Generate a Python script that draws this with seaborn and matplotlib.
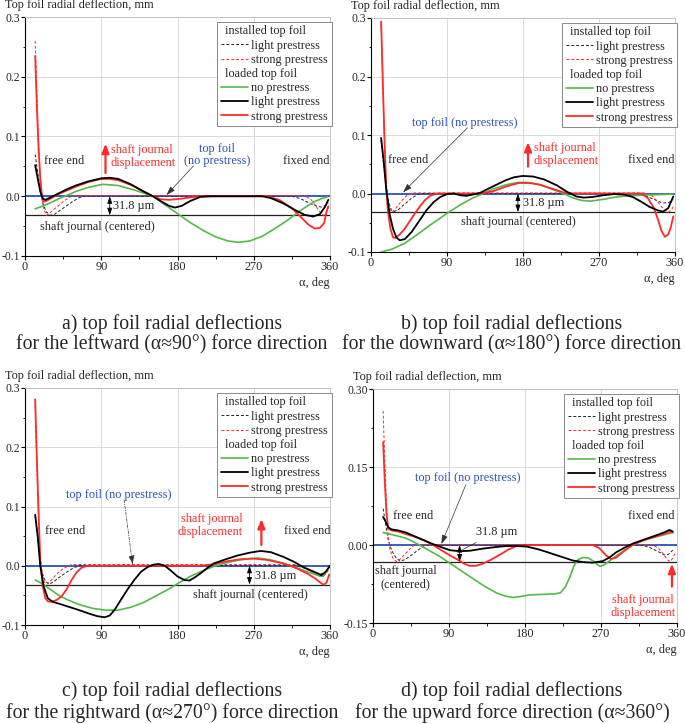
import numpy as np
import pandas as pd
import matplotlib
matplotlib.use("Agg")
import matplotlib.pyplot as plt
import seaborn as sns
from matplotlib.ticker import MultipleLocator, FormatStrFormatter
from matplotlib.lines import Line2D

# ---------------- data ----------------
# panel a) leftward force
a_green_ang = [12, 20, 30, 40, 47, 60, 75, 92, 110, 130, 151, 165, 180, 195, 210, 225, 240, 252, 265, 280, 295, 310, 325, 340, 350, 357]
a_green = [-0.021, -0.017, -0.011, -0.004, 0.0, 0.008, 0.015, 0.020, 0.018, 0.010, 0.0, -0.014, -0.029, -0.044, -0.057, -0.068, -0.075, -0.077, -0.075, -0.067, -0.054, -0.040, -0.024, -0.010, -0.004, -0.001]
a_black_ang = [12, 15, 18, 21, 24, 30, 40, 50, 60, 75, 90, 100, 110, 125, 140, 151, 160, 170, 177, 185, 195, 207, 220, 280, 290, 305, 320, 330, 340, 348, 354, 358]
a_black = [0.052, 0.030, 0.008, -0.004, -0.006, -0.002, 0.005, 0.012, 0.018, 0.025, 0.030, 0.031, 0.029, 0.020, 0.008, 0.0, -0.008, -0.016, -0.019, -0.016, -0.008, -0.001, 0.0, 0.0, -0.003, -0.012, -0.024, -0.031, -0.034, -0.030, -0.018, -0.006]
a_red_ang = [12, 14, 16, 18, 20, 22, 25, 30, 40, 50, 60, 75, 90, 100, 110, 125, 140, 151, 160, 170, 185, 200, 210, 285, 300, 315, 325, 335, 342, 348, 353, 356, 358]
a_red = [0.235, 0.150, 0.080, 0.030, 0.002, -0.009, -0.008, -0.004, 0.004, 0.010, 0.016, 0.024, 0.029, 0.029, 0.027, 0.019, 0.008, 0.0, -0.005, -0.006, -0.004, -0.001, 0.0, 0.0, -0.006, -0.020, -0.034, -0.048, -0.054, -0.053, -0.045, -0.025, -0.017]
a_black_inst_ang = [12, 15, 18, 21, 25, 30, 35, 45, 55, 62, 68, 315, 325, 335, 345, 350, 355, 358]
a_black_inst = [0.070, 0.040, 0.010, -0.012, -0.026, -0.032, -0.030, -0.020, -0.010, -0.004, 0.0, 0.0, -0.004, -0.011, -0.017, -0.018, -0.015, -0.011]
a_red_inst_ang = [12, 14, 16, 18, 20, 22, 25, 28, 35, 45, 52, 57, 330, 338, 345, 350, 353, 356, 358]
a_red_inst = [0.260, 0.170, 0.090, 0.035, 0.0, -0.020, -0.032, -0.030, -0.021, -0.009, -0.002, 0.001, 0.001, -0.006, -0.020, -0.030, -0.032, -0.026, -0.020]

# panel b) downward force
b_green_ang = [12, 25, 40, 55, 70, 90, 105, 120, 133, 145, 160, 175, 185, 200, 215, 228, 240, 250, 260, 275, 290, 305, 320, 340, 358]
b_green = [-0.100, -0.095, -0.085, -0.070, -0.054, -0.034, -0.020, -0.008, 0.0, 0.008, 0.015, 0.019, 0.019, 0.015, 0.007, 0.0, -0.008, -0.012, -0.013, -0.010, -0.006, -0.004, -0.003, -0.002, -0.001]
b_black_ang = [12, 15, 18, 22, 26, 30, 34, 40, 48, 58, 66, 74, 82, 90, 98, 106, 113, 120, 129, 140, 150, 160, 170, 180, 192, 205, 220, 232, 243, 252, 262, 275, 288, 300, 310, 320, 330, 340, 346, 352, 358]
b_black = [0.095, 0.055, 0.008, -0.035, -0.060, -0.075, -0.080, -0.078, -0.066, -0.045, -0.028, -0.015, -0.006, -0.001, 0.0, -0.003, -0.004, -0.002, 0.001, 0.009, 0.016, 0.023, 0.028, 0.030, 0.029, 0.024, 0.014, 0.003, -0.005, -0.007, -0.006, -0.003, -0.001, -0.002, -0.006, -0.014, -0.023, -0.029, -0.031, -0.025, -0.005]
b_red_ang = [12, 14, 16, 18, 20, 23, 26, 29, 34, 40, 46, 52, 58, 64, 70, 78, 130, 145, 160, 175, 188, 200, 215, 228, 240, 320, 328, 335, 340, 344, 348, 352, 355, 358]
b_red = [0.294, 0.190, 0.090, 0.010, -0.030, -0.060, -0.075, -0.076, -0.070, -0.060, -0.047, -0.034, -0.022, -0.011, -0.004, 0.0, 0.0, 0.004, 0.012, 0.018, 0.018, 0.015, 0.008, 0.002, 0.0, 0.0, -0.008, -0.025, -0.045, -0.064, -0.074, -0.070, -0.058, -0.039]
b_black_inst_ang = [12, 15, 18, 21, 24, 27, 32, 40, 48, 55, 60, 315, 325, 335, 345, 352, 358]
b_black_inst = [0.090, 0.050, 0.010, -0.015, -0.028, -0.031, -0.028, -0.018, -0.008, -0.002, 0.0, 0.0, -0.004, -0.010, -0.016, -0.016, -0.010]
b_red_inst_ang = [12, 14, 16, 18, 20, 23, 26, 30, 36, 42, 48, 325, 333, 340, 347, 352, 356, 358]
b_red_inst = [0.290, 0.185, 0.090, 0.020, -0.012, -0.030, -0.031, -0.024, -0.013, -0.004, 0.001, 0.001, -0.004, -0.015, -0.028, -0.032, -0.028, -0.022]

# panel c) rightward force
c_green_ang = [12, 20, 30, 40, 51, 65, 80, 95, 110, 125, 140, 157, 170, 184, 195, 207, 223, 235, 250, 265, 275, 290, 305, 320, 333, 345, 352, 357, 360]
c_green = [-0.024, -0.030, -0.040, -0.050, -0.058, -0.066, -0.072, -0.075, -0.075, -0.070, -0.062, -0.049, -0.039, -0.027, -0.018, -0.010, -0.001, 0.004, 0.009, 0.012, 0.013, 0.010, 0.004, -0.003, -0.010, -0.016, -0.018, -0.008, 0.0]
c_black_ang = [12, 15, 18, 22, 27, 33, 40, 51, 62, 74, 85, 94, 100, 106, 113, 121, 129, 137, 145, 152, 158, 165, 172, 180, 188, 194, 200, 207, 215, 223, 235, 250, 265, 278, 290, 305, 317, 328, 336, 344, 350, 355, 360]
c_black = [0.086, 0.050, 0.0, -0.035, -0.055, -0.061, -0.064, -0.069, -0.074, -0.080, -0.085, -0.087, -0.084, -0.074, -0.058, -0.040, -0.024, -0.010, -0.002, 0.002, 0.003, 0.0, -0.008, -0.018, -0.024, -0.025, -0.020, -0.013, -0.004, 0.004, 0.010, 0.017, 0.022, 0.025, 0.023, 0.015, 0.007, -0.002, -0.007, -0.012, -0.016, -0.010, 0.0]
c_red_ang = [12, 14, 16, 18, 21, 24, 27, 31, 37, 43, 49, 55, 61, 67, 74, 210, 223, 240, 255, 270, 285, 305, 320, 333, 343, 350, 353, 356, 359]
c_red = [0.281, 0.180, 0.090, 0.010, -0.035, -0.055, -0.060, -0.061, -0.058, -0.052, -0.040, -0.024, -0.011, -0.003, 0.0, 0.0, 0.003, 0.008, 0.011, 0.012, 0.010, 0.004, -0.004, -0.013, -0.022, -0.030, -0.032, -0.028, -0.015]
c_black_inst_ang = [12, 15, 18, 21, 24, 28, 33, 40, 50, 58, 65, 320, 330, 340, 348, 354, 358]
c_black_inst = [0.085, 0.045, 0.005, -0.015, -0.026, -0.031, -0.028, -0.020, -0.010, -0.003, 0.0, 0.0, -0.004, -0.010, -0.014, -0.012, -0.006]
c_red_inst_ang = [12, 14, 16, 18, 20, 23, 26, 30, 36, 43, 50, 55, 320, 330, 340, 348, 354, 358]
c_red_inst = [0.270, 0.170, 0.080, 0.015, -0.012, -0.028, -0.031, -0.026, -0.016, -0.007, -0.001, 0.002, 0.002, -0.004, -0.012, -0.018, -0.015, -0.008]

# panel d) upward force
d_green_ang = [12, 25, 39, 47, 55, 67, 79, 91, 103, 115, 126, 136, 146, 156, 166, 175, 185, 200, 215, 222, 228, 233, 238, 243, 249, 255, 261, 266, 269, 273, 278, 288, 298, 308, 320, 336, 348, 355]
d_green = [0.024, 0.019, 0.013, 0.007, 0.0, -0.011, -0.022, -0.035, -0.048, -0.061, -0.073, -0.083, -0.092, -0.098, -0.101, -0.099, -0.096, -0.095, -0.094, -0.092, -0.080, -0.062, -0.040, -0.028, -0.024, -0.025, -0.031, -0.038, -0.041, -0.039, -0.033, -0.021, -0.010, 0.0, 0.009, 0.016, 0.021, 0.024]
d_black_ang = [12, 15, 18, 22, 30, 39, 49, 59, 69, 79, 91, 103, 115, 130, 145, 158, 170, 182, 195, 205, 220, 237, 250, 260, 272, 280, 288, 298, 308, 322, 336, 346, 351, 355]
d_black = [0.054, 0.045, 0.034, 0.030, 0.028, 0.024, 0.017, 0.010, 0.003, -0.003, -0.010, -0.012, -0.011, -0.007, -0.004, -0.002, -0.002, -0.003, -0.008, -0.013, -0.021, -0.030, -0.033, -0.034, -0.031, -0.024, -0.014, -0.005, 0.003, 0.011, 0.019, 0.025, 0.029, 0.026]
d_red_ang = [12, 14, 16, 18, 22, 30, 39, 49, 59, 69, 79, 89, 99, 107, 114, 122, 130, 140, 150, 160, 170, 180, 260, 268, 276, 282, 288, 298, 308, 322, 336, 346, 351, 355]
d_red = [0.198, 0.120, 0.060, 0.032, 0.028, 0.026, 0.021, 0.016, 0.010, 0.002, -0.008, -0.018, -0.027, -0.035, -0.040, -0.040, -0.036, -0.028, -0.019, -0.009, -0.002, 0.0, 0.0, -0.006, -0.020, -0.027, -0.024, -0.011, 0.001, 0.010, 0.017, 0.022, 0.025, 0.024]
d_black_inst_ang = [12, 15, 18, 22, 27, 32, 38, 46, 54, 60, 64, 318, 328, 338, 345, 350, 355]
d_black_inst = [0.070, 0.040, 0.010, -0.010, -0.024, -0.031, -0.028, -0.019, -0.009, -0.002, 0.0, 0.0, -0.005, -0.013, -0.019, -0.018, -0.010]
d_red_inst_ang = [12, 14, 16, 18, 20, 24, 28, 33, 40, 46, 50, 330, 338, 344, 349, 352, 355, 358]
d_red_inst = [0.258, 0.160, 0.075, 0.020, -0.008, -0.027, -0.032, -0.026, -0.014, -0.004, 0.001, 0.001, -0.006, -0.018, -0.029, -0.032, -0.025, -0.015]

shaft_gap = -0.0318   # 31.8 um clearance, shaft journal (centered)

x_ticks = [0, 90, 180, 270, 360]
captions = [
    "a) top foil radial deflections\nfor the leftward (\u03b1\u224890\u00b0) force direction",
    "b) top foil radial deflections\nfor the downward (\u03b1\u2248180\u00b0) force direction",
    "c) top foil radial deflections\nfor the rightward (\u03b1\u2248270\u00b0) force direction",
    "d) top foil radial deflections\nfor the upward force direction (\u03b1\u2248360\u00b0)",
]

# ---------------- style ----------------
sns.set_theme(style="ticks")
plt.rcParams['font.family'] = ['Liberation Serif', 'DejaVu Serif']
plt.rcParams['axes.unicode_minus'] = False

GREEN = '#55b84a'
RED = '#ff2a2a'
BLUE = '#2f50b8'
FS = 8.8

fig = plt.figure(figsize=(6.85, 7.24), dpi=100)
W, H = 685.0, 724.0
def px_axes(l, t, r, b):
    return fig.add_axes([l / W, 1 - b / H, (r - l) / W, (b - t) / H])

ax_a = px_axes(25, 17, 330, 256)
ax_b = px_axes(371, 18, 675, 252)
ax_c = px_axes(25, 388, 330, 625)
ax_d = px_axes(373, 389, 677, 623)


def draw_panel(ax, black_inst_ang, black_inst, red_inst_ang, red_inst,
               green_ang, green, black_ang, black, red_ang, red, ymin, ymax, ystep, yfmt):
    df = pd.DataFrame  # short alias
    sns.lineplot(data=df({'ang': black_inst_ang, 'v': black_inst}), x='ang', y='v', ax=ax,
                 color='#222222', lw=0.7, linestyle=(0, (3, 2)), zorder=3, estimator=None)
    sns.lineplot(data=df({'ang': red_inst_ang, 'v': red_inst}), x='ang', y='v', ax=ax,
                 color=RED, lw=0.7, linestyle=(0, (3, 2)), zorder=3, estimator=None)
    ax.axhline(0, color=BLUE, lw=1.3, zorder=2.5)
    ax.axhline(shaft_gap, color='#222222', lw=0.9, zorder=2.5)
    sns.lineplot(data=df({'ang': green_ang, 'v': green}), x='ang', y='v', ax=ax,
                 color=GREEN, lw=1.2, zorder=4, estimator=None)
    sns.lineplot(data=df({'ang': red_ang, 'v': red}), x='ang', y='v', ax=ax,
                 color=RED, lw=1.3, zorder=5, estimator=None)
    sns.lineplot(data=df({'ang': black_ang, 'v': black}), x='ang', y='v', ax=ax,
                 color='black', lw=1.3, zorder=5, estimator=None)

    ax.set_xlim(0, 360)
    ax.set_ylim(ymin, ymax)
    ax.set_xticks(x_ticks)
    ax.xaxis.set_minor_locator(MultipleLocator(45))
    ax.yaxis.set_major_locator(MultipleLocator(ystep))
    ax.yaxis.set_minor_locator(MultipleLocator(ystep / 2))
    ax.yaxis.set_major_formatter(FormatStrFormatter(yfmt))
    ax.tick_params(which='major', direction='out', length=2.6, width=0.8, pad=0.8, color='black')
    ax.tick_params(axis='x', which='major', labelsize=FS)
    ax.tick_params(axis='y', which='major', labelsize=8.4)
    ax.tick_params(which='minor', direction='out', length=1.8, width=0.6, color='black')
    ax.grid(True, which='major', color='#d4d4d4', lw=0.6, zorder=0)
    for s in ['left', 'bottom']:
        ax.spines[s].set_color('black')
        ax.spines[s].set_linewidth(0.8)
    for s in ['top', 'right']:
        ax.spines[s].set_color('#bdbdbd')
        ax.spines[s].set_linewidth(0.6)
    ax.set_xlabel('\u03b1, deg', loc='right', fontsize=FS, labelpad=3)
    ax.set_ylabel('')
    ax.text(-0.066, 1.05, 'Top foil radial deflection, mm', transform=ax.transAxes,
            ha='left', va='center', fontsize=FS)

    # legend with two header rows
    handles = [Line2D([], [], lw=0),
               Line2D([], [], color='#222222', lw=0.7, linestyle=(0, (3, 2))),
               Line2D([], [], color=RED, lw=0.7, linestyle=(0, (3, 2))),
               Line2D([], [], lw=0),
               Line2D([], [], color=GREEN, lw=1.2),
               Line2D([], [], color='black', lw=1.3),
               Line2D([], [], color=RED, lw=1.3)]
    labels = ['installed top foil', 'light prestress', 'strong prestress',
              'loaded top foil', 'no prestress', 'light prestress', 'strong prestress']
    leg = ax.legend(handles, labels, loc='upper right', bbox_to_anchor=(1.006, 0.98),
                    fontsize=FS, frameon=True, fancybox=False, framealpha=1,
                    edgecolor='#8a8a8a', borderpad=0.3, labelspacing=0.18,
                    handlelength=2.2, handletextpad=0.3, borderaxespad=0)
    leg.get_frame().set_linewidth(0.7)
    leg.set_zorder(10)
    for col in leg._legend_handle_box.get_children():
        for row, lab in zip(col.get_children(), labels):
            if lab.endswith('top foil'):
                row.get_children()[0].set_width(0)


def gap_arrow(ax, x):
    ax.annotate('', xy=(x, 0), xytext=(x, shaft_gap),
                arrowprops=dict(arrowstyle='<|-|>,head_length=0.35,head_width=0.12',
                                color='black', lw=0.6, shrinkA=0, shrinkB=0), zorder=6)


def shaft_arrow(ax, x, y0, y1):
    ax.annotate('', xy=(x, y1), xytext=(x, y0),
                arrowprops=dict(arrowstyle='-|>,head_length=0.45,head_width=0.18',
                                color=RED, lw=1.6, shrinkA=0, shrinkB=0), zorder=6)


def foil_arrow(ax, x0, y0, x1, y1, ls='-'):
    ax.annotate('', xy=(x1, y1), xytext=(x0, y0),
                arrowprops=dict(arrowstyle='-|>,head_length=0.45,head_width=0.15',
                                color='#333333', lw=0.5, linestyle=ls, shrinkA=0, shrinkB=0), zorder=6)


# ---------------- a) ----------------
draw_panel(ax_a, a_black_inst_ang, a_black_inst, a_red_inst_ang, a_red_inst,
           a_green_ang, a_green, a_black_ang, a_black, a_red_ang, a_red, -0.1, 0.3, 0.1, '%.1f')
ax_a.text(46, 0.059, 'free end', ha='center', va='center', fontsize=FS)
ax_a.text(332, 0.059, 'fixed end', ha='center', va='center', fontsize=FS)
shaft_arrow(ax_a, 95, 0.039, 0.088)
ax_a.text(101, 0.067, 'shaft journal\ndisplacement', color=RED, ha='left', va='center', fontsize=FS, linespacing=1.1)
ax_a.text(227, 0.069, 'top foil\n(no prestress)', color=BLUE, ha='center', va='center', fontsize=FS, linespacing=1.1)
foil_arrow(ax_a, 199, 0.051, 167, 0.002)
gap_arrow(ax_a, 100)
ax_a.text(104, -0.017, '31.8 \u00b5m', ha='left', va='center', fontsize=FS)
ax_a.text(86, -0.051, 'shaft journal (centered)', ha='center', va='center', fontsize=FS)

# ---------------- b) ----------------
draw_panel(ax_b, b_black_inst_ang, b_black_inst, b_red_inst_ang, b_red_inst,
           b_green_ang, b_green, b_black_ang, b_black, b_red_ang, b_red, -0.1, 0.3, 0.1, '%.1f')
ax_b.text(44, 0.058, 'free end', ha='center', va='center', fontsize=FS)
ax_b.text(332, 0.058, 'fixed end', ha='center', va='center', fontsize=FS)
ax_b.text(111, 0.120, 'top foil (no prestress)', color=BLUE, ha='center', va='center', fontsize=FS)
foil_arrow(ax_b, 114, 0.112, 38, 0.002)
shaft_arrow(ax_b, 186, 0.046, 0.088)
ax_b.text(193, 0.067, 'shaft journal\ndisplacement', color=RED, ha='left', va='center', fontsize=FS, linespacing=1.1)
gap_arrow(ax_b, 174)
ax_b.text(180, -0.016, '31.8 \u00b5m', ha='left', va='center', fontsize=FS)
ax_b.text(174, -0.049, 'shaft journal (centered)', ha='center', va='center', fontsize=FS)

# ---------------- c) ----------------
draw_panel(ax_c, c_black_inst_ang, c_black_inst, c_red_inst_ang, c_red_inst,
           c_green_ang, c_green, c_black_ang, c_black, c_red_ang, c_red, -0.1, 0.3, 0.1, '%.1f')
ax_c.text(47, 0.058, 'free end', ha='center', va='center', fontsize=FS)
ax_c.text(333, 0.058, 'fixed end', ha='center', va='center', fontsize=FS)
ax_c.text(111, 0.120, 'top foil (no prestress)', color=BLUE, ha='center', va='center', fontsize=FS)
foil_arrow(ax_c, 117, 0.111, 127, 0.002, ls=(0, (4, 2, 1, 2)))
ax_c.text(257, 0.068, 'shaft journal\ndisplacement', color=RED, ha='right', va='center', fontsize=FS, linespacing=1.1)
shaft_arrow(ax_c, 279, 0.035, 0.079)
gap_arrow(ax_c, 265)
ax_c.text(271, -0.018, '31.8 \u00b5m', ha='left', va='center', fontsize=FS)
ax_c.text(266, -0.050, 'shaft journal (centered)', ha='center', va='center', fontsize=FS)

# ---------------- d) ----------------
draw_panel(ax_d, d_black_inst_ang, d_black_inst, d_red_inst_ang, d_red_inst,
           d_green_ang, d_green, d_black_ang, d_black, d_red_ang, d_red, -0.15, 0.30, 0.15, '%.2f')
ax_d.text(47, 0.055, 'free end', ha='center', va='center', fontsize=FS)
ax_d.text(330, 0.055, 'fixed end', ha='center', va='center', fontsize=FS)
ax_d.text(112, 0.128, 'top foil (no prestress)', color=BLUE, ha='center', va='center', fontsize=FS)
foil_arrow(ax_d, 110, 0.116, 81, 0.002)
gap_arrow(ax_d, 102.6)
ax_d.annotate('31.8 \u00b5m', xy=(106, -0.009), xytext=(146, 0.025), ha='center', va='center',
              fontsize=FS, arrowprops=dict(arrowstyle='-', lw=0.5, color='#333333',
                                           shrinkA=2, shrinkB=0))
ax_d.text(39, -0.063, 'shaft journal\n(centered)', ha='center', va='center', fontsize=FS, linespacing=1.15)
shaft_arrow(ax_d, 354, -0.080, -0.036)
ax_d.text(320, -0.119, 'shaft journal\ndisplacement', color=RED, ha='center', va='center', fontsize=FS, linespacing=1.1)

# ---------------- captions ----------------
for (cx, cy), cap in zip([(172, 334), (512, 334), (172, 702), (512, 702)], captions):
    fig.text(cx / W, 1 - cy / H, cap, ha='center', va='center', fontsize=14.2, linespacing=1.1)

fig.savefig('out.png', dpi=100)
